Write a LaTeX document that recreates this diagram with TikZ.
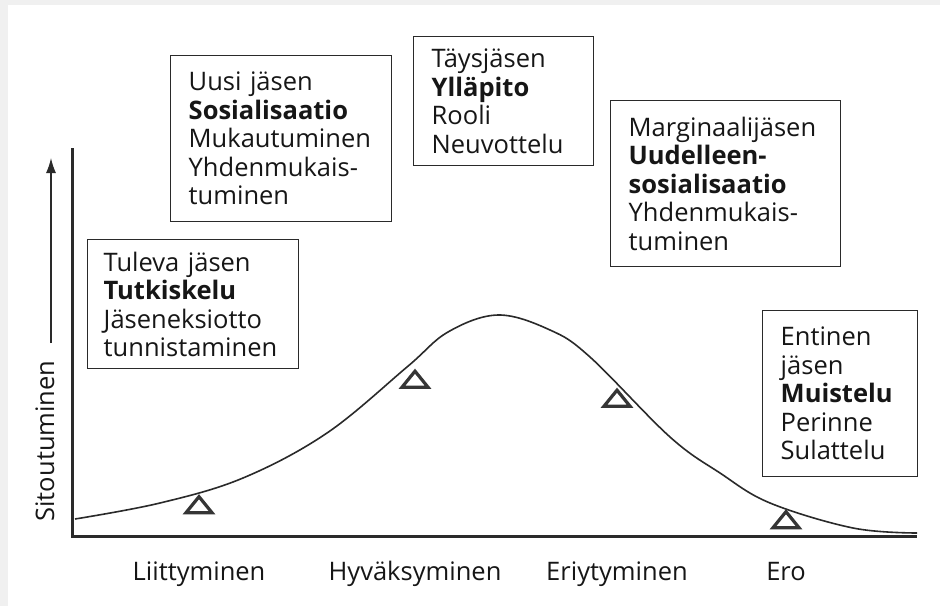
\documentclass[tikz,border=0pt]{standalone}
\usepackage{fontspec}
\setmainfont{Open Sans}
\usepackage{xcolor}
\definecolor{ink}{HTML}{161616}
\definecolor{ink2}{HTML}{2A2A2A}
\definecolor{markgrey}{HTML}{353535}
\definecolor{scan}{HTML}{F0F0F0}
\usetikzlibrary{positioning,arrows.meta,shapes.geometric}

\begin{document}
\begin{tikzpicture}[
  x=1pt,y=-1pt,
  font=\fontsize{25.5}{28.5}\selectfont,
  text=ink,
  stagebox/.style={draw=ink2,line width=1.4pt,anchor=north west,align=left,
    inner xsep=18pt,inner ysep=0pt},
  axisline/.style={draw=ink2,line width=3pt},
  curveline/.style={draw=ink2,line width=1.6pt},
  marker/.style={draw=markgrey,line width=3.2pt,isosceles triangle,isosceles triangle stretches,
    shape border rotate=90,minimum width=26pt,minimum height=16pt,inner sep=0pt},
  phaselabel/.style={anchor=base,yshift=-44pt}
]
\useasboundingbox (0,0) rectangle (940,606);
\fill[scan] (0,0) rectangle (940,606);
\fill[white] (8,5) rectangle (940,606);

\node[stagebox,text width=185pt,minimum height=166pt] (uusi) at (170,55)
  {Uusi jäsen\\\textbf{Sosialisaatio}\\Mukautuminen\\Yhdenmukais-\\tuminen};
\node[stagebox,text width=144pt,minimum height=129pt] (tays) at (413,36)
  {Täysjäsen\\\textbf{Ylläpito}\\Rooli\\Neuvottelu};
\node[stagebox,text width=194pt,minimum height=166pt] (marg) at (610,100)
  {Marginaalijäsen\\\textbf{Uudelleen-}\\\textbf{sosialisaatio}\\Yhdenmukais-\\tuminen};
\node[stagebox,text width=179pt,minimum height=129pt,inner xsep=16pt] (tuleva) at (87,239)
  {Tuleva jäsen\\\textbf{Tutkiskelu}\\Jäseneksiotto\\tunnistaminen};
\node[stagebox,text width=119pt,minimum height=166pt] (entinen) at (762,310)
  {Entinen\\jäsen\\\textbf{Muistelu}\\Perinne\\Sulattelu};

\coordinate (ytop) at (72,148);
\coordinate (origin) at (72,536);
\coordinate (xend) at (917,536);
\draw[axisline] (ytop) -- (origin) -- (xend);

\coordinate (arrowfoot) at (51,343);
\coordinate (arrowtip) at (51,158);
\draw[-{Latex[length=15pt,width=10pt]},ink2,line width=1.3pt] (arrowfoot) -- (arrowtip);
\node[rotate=90] (sitout) at (45,441) {Sitoutuminen};

\draw[curveline] plot[smooth,tension=0.6] coordinates {(75,519) (160,503) (243,478) (327,433)
  (407,367) (448,332) (498,315) (550,330) (590,357) (670,437) (720,473) (770,503) (853,528) (917,533)};

\node[marker] (tri1) at (199,506.5) {};
\node[marker] (tri2) at (415,381) {};
\node[marker] (tri3) at (617,400) {};
\node[marker] (tri4) at (786,521.5) {};

\node[phaselabel] (liitt) at (tri1 |- origin) {Liittyminen};
\node[phaselabel] (hyvak) at (tri2 |- origin) {Hyväksyminen};
\node[phaselabel] (eriyt) at (tri3 |- origin) {Eriytyminen};
\node[phaselabel] (ero) at (tri4 |- origin) {Ero};
\end{tikzpicture}
\end{document}
